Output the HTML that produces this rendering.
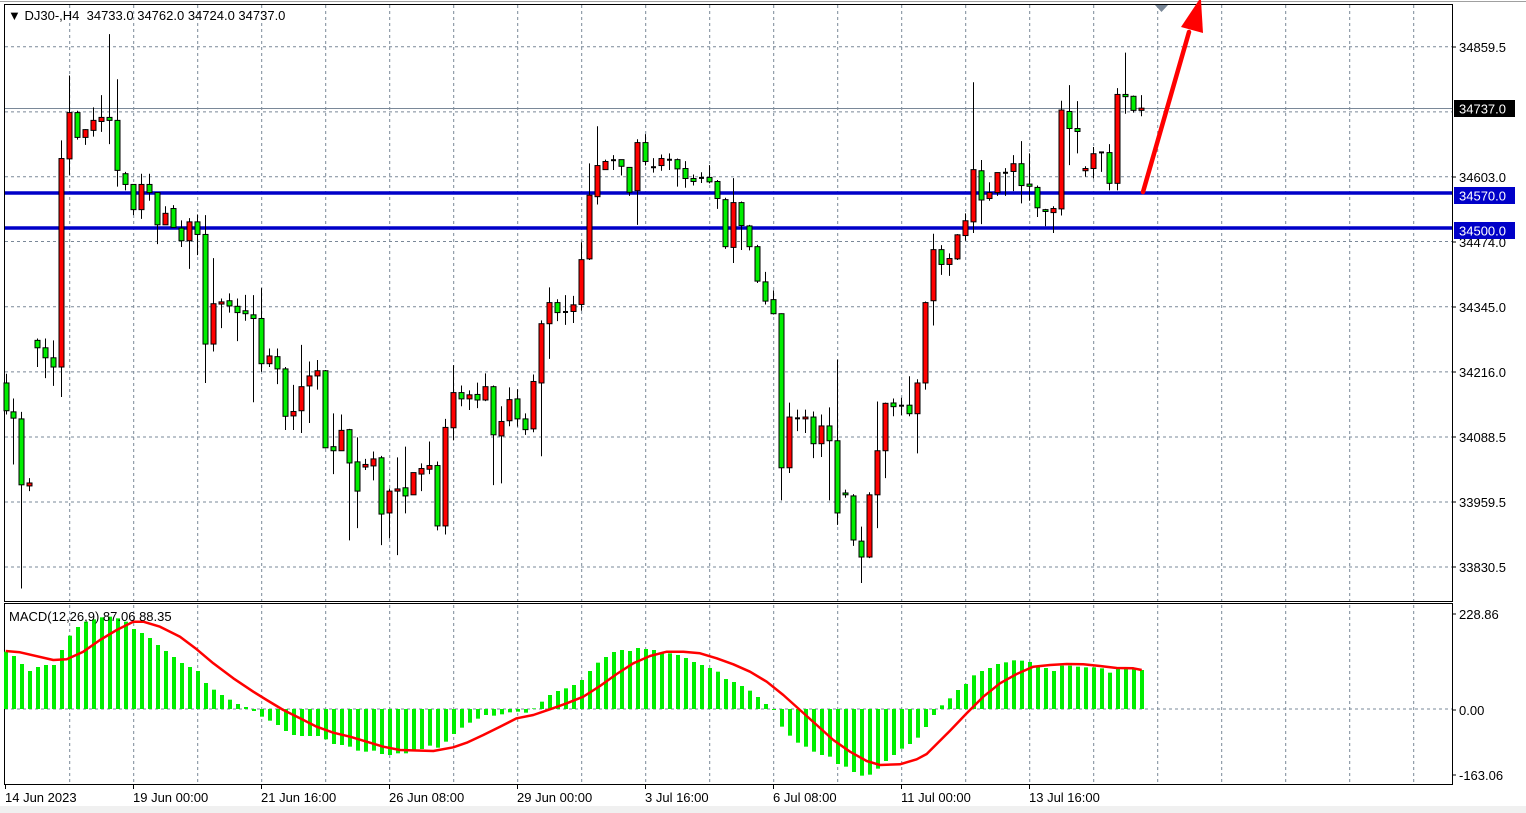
<!DOCTYPE html>
<html><head><meta charset="utf-8"><style>
html,body{margin:0;padding:0;background:#fff;width:1526px;height:813px;overflow:hidden}
svg{display:block}
text{font-family:"Liberation Sans","DejaVu Sans",sans-serif;font-size:13px;fill:#000}
</style></head><body>
<svg id="s" width="1526" height="813" xmlns="http://www.w3.org/2000/svg">
<rect x="0" y="0" width="1526" height="813" fill="#fff"/>
<rect x="0" y="806" width="1526" height="7" fill="#f0f0f0"/>
<g id="grid"></g>
<g id="lines"></g>
<g id="candles"></g>
<g id="macd"></g>
<g id="ov"></g>
</svg>
<script>
const NS="http://www.w3.org/2000/svg";
function el(p,t,a,txt){const e=document.createElementNS(NS,t);for(const k in a)e.setAttribute(k,a[k]);if(txt!==undefined)e.textContent=txt;document.getElementById(p).appendChild(e);return e;}
for(let x=69.7;x<1452;x+=64){el('grid','line',{x1:x,y1:5,x2:x,y2:601,stroke:'#7a8898','stroke-dasharray':'3,3','stroke-width':1});
 el('grid','line',{x1:x,y1:605,x2:x,y2:784,stroke:'#7a8898','stroke-dasharray':'3,3','stroke-width':1});}
[46.7,111.9,176.7,241.5,306.7,371.9,437,502,567].forEach(y=>el('grid','line',{x1:5,y1:y,x2:1452,y2:y,stroke:'#7a8898','stroke-dasharray':'3,3','stroke-width':1}));
el('grid','line',{x1:5,y1:709,x2:1452,y2:709,stroke:'#7a8898','stroke-dasharray':'3,3','stroke-width':1});
el('grid','line',{x1:5,y1:108.5,x2:1452,y2:108.5,stroke:'#7a8898','stroke-width':1});
el('grid','rect',{x:4.5,y:4.5,width:1448,height:597,fill:'none',stroke:'#000','stroke-width':1});
el('grid','rect',{x:4.5,y:603.5,width:1448,height:181,fill:'none',stroke:'#000','stroke-width':1});
el('grid','line',{x1:0,y1:1.5,x2:1526,y2:1.5,stroke:'#a0a0a0','stroke-width':1});
const Z=[
 [0,[[17,'G',955,980,1055,1065],[40,'G',1022,1058,1075,1200],[64,'G',1058,1077,1255,1535],[88,'R',1237,1250,1258,1272],[112,'G',860,865,885,937],[136,'G',860,885,912,967],[160,'G',865,912,937,988],[184,'R',325,374,937,1018],[208,'R',150,250,375,418],[232,'G',245,250,317,323],[256,'R',295,296,317,337],[280,'R',236,271,298,315],[304,'R',203,263,274,302],[328,'G',38,263,271,335],[352,'G',160,271,406,450],[376,'G',410,415,444,460],[400,'G',444,444,512,527],[424,'R',415,444,512,537],[448,'G',415,444,466,488],[472,'G',466,466,553,605],[496,'R',503,522,553,553],[520,'G',500,509,560,560],[544,'G',541,562,596,613],[568,'R',535,545,596,672],[592,'G',525,545,579,635],[616,'G',527,579,875,980],[640,'R',643,766,875,895],[664,'R',752,761,767,832],[688,'G',738,758,772,790],[712,'G',752,773,790,867],[736,'G',742,785,793,812],[760,'G',743,796,806,1032],[784,'G',724,806,928,950],[808,'R',887,907,928,937],[832,'G',887,909,942,983],[856,'G',937,942,1070,1107]]],
 [285,[[25,'R',985,1057,1069,1107],[49,'R',877,990,1055,1115],[73,'R',922,961,988,1088],[97,'R',918,947,961,998],[121,'G',945,947,1155,1157],[145,'G',1062,1152,1163,1226],[169,'R',1065,1108,1163,1163],[193,'G',1104,1106,1196,1405],[217,'G',1127,1193,1272,1372],[241,'R',1185,1200,1207,1215],[265,'R',1165,1185,1204,1243],[289,'G',1177,1182,1334,1418],[313,'R',1265,1272,1331,1400],[337,'R',1181,1266,1272,1445],[361,'G',1152,1263,1285,1332],[385,'R',1222,1222,1282,1282],[409,'R',1197,1211,1226,1272],[433,'R',1138,1203,1213,1226],[457,'G',1192,1203,1366,1378],[481,'R',1077,1100,1366,1389],[505,'R',932,1006,1101,1135],[529,'G',987,1006,1023,1043],[553,'R',1000,1012,1023,1053],[577,'G',979,1011,1026,1048],[601,'R',954,990,1026,1029],[625,'G',987,990,1120,1256],[649,'R',1043,1084,1123,1251],[673,'R',992,1025,1082,1097],[697,'G',997,1023,1077,1098],[721,'G',1062,1077,1106,1120],[745,'R',957,976,1104,1113],[769,'R',811,820,980,1178],[793,'R',722,763,820,915],[817,'G',754,763,790,813],[841,'D',743,787,789,823]]],
 [570,[[10,'R',745,769,787,818],[34,'R',600,647,768,785],[58,'R',387,473,645,648],[82,'R',287,393,477,498],[106,'R',377,382,404,405],[130,'D',365,377,380,405],[154,'G',377,377,395,420],[178,'G',398,398,465,475],[202,'R',322,331,461,553],[226,'G',308,331,382,393],[250,'D',373,396,399,412],[274,'R',363,374,393,407],[298,'D',360,376,378,405],[322,'G',374,377,402,450],[346,'G',381,401,428,453],[370,'G',417,428,436,447],[394,'D',411,425,427,440],[418,'G',392,425,437,441],[442,'G',432,436,482,510],[466,'G',480,485,612,618],[490,'R',427,493,614,656],[514,'G',490,493,555,621],[538,'G',553,556,612,622],[562,'G',607,612,705,710],[586,'G',680,707,759,768],[610,'G',730,755,793,795],[634,'G',792,793,1209,1297],[658,'R',1033,1072,1209,1223],[682,'D',1052,1074,1077,1110],[706,'R',1052,1072,1077,1115],[730,'G',1057,1072,1144,1183],[754,'R',1065,1096,1144,1180],[778,'G',1046,1096,1136,1297],[802,'G',917,1136,1331,1363],[826,'G',1268,1277,1282,1290],[850,'G',1280,1285,1404,1420]]],
 [855,[[19,'G',1368,1407,1450,1520],[43,'R',1275,1282,1450,1453],[67,'R',1030,1163,1282,1372],[91,'R',1033,1035,1163,1237],[115,'G',1022,1034,1044,1070],[139,'D',1020,1040,1042,1067],[163,'G',962,1040,1063,1070],[187,'R',970,980,1063,1170],[211,'R',760,763,980,998],[235,'R',577,620,758,825],[259,'G',608,620,660,688],[283,'R',630,644,660,691],[307,'R',578,580,645,648],[331,'R',522,542,582,596],[355,'R',168,404,545,575],[379,'G',378,407,486,551],[403,'R',438,466,482,488],[427,'R',412,412,466,475],[451,'D',400,411,414,475],[475,'R',365,388,409,462],[499,'G',327,388,447,495],[523,'G',360,443,449,488],[547,'G',447,452,507,532],[571,'G',510,512,517,557],[595,'R',503,509,520,575],[619,'R',218,243,510,528],[643,'G',176,247,293,392],[667,'G',219,293,301,360],[691,'R',395,401,407,423],[715,'R',343,361,401,428],[739,'D',355,356,359,410],[763,'G',335,358,441,460],[787,'R',184,201,441,460],[811,'G',88,201,207,253],[835,'G',204,206,244,250],[859,'R',203,238,244,260]]]
];
const VS=2.7;
Z.forEach(([x0,arr])=>arr.forEach(c=>{
 const cx=Math.round(x0+c[0]/3)+0.5, Y=v=>20+v/VS;
 const wt=Y(c[2]),bt=Y(c[3]),bb=Y(c[4]),wb=Y(c[5]);
 el('candles','line',{x1:cx,y1:Math.max(wt,5),x2:cx,y2:wb,stroke:'#000','stroke-width':1});
 let h=Math.max(bb-bt,1);
 if(c[1]=='D'){el('candles','line',{x1:cx-2.5,y1:bt+h/2,x2:cx+2.5,y2:bt+h/2,stroke:'#000','stroke-width':2});}
 else el('candles','rect',{x:cx-2.5,y:bt,width:5,height:h,fill:c[1]=='R'?'#ff0000':'#00ee00',stroke:'#000','stroke-width':1});
}));
el('lines','line',{x1:5,y1:193,x2:1452,y2:193,stroke:'#0000c8','stroke-width':3.5});
el('lines','line',{x1:5,y1:228,x2:1452,y2:228,stroke:'#0000c8','stroke-width':3.5});
const H=[[0,[155,168,192,213,201,195,195,150,107,81,65,58,52,50,55,65,87,99,114,135,153,171,189,201,213,249,269,285,299,312,321,333,350,362,375,393,405,408,408,408,418,432,435,440,452,455,452,462,465,460]],
[50,[460,450,447,437,443,425,402,383,368,356,345,347,343,337,335,338,325,305,285,273,265,255,240,213,188,171,156,150,153,144,147,150,158,160,165,174,186,195,204,215,237,246,258,272,291,312,330,380,407,428]],
[100,[440,455,465,470,492,500,516,527,524,506,483,465,446,432,413,381,345,316,295,270,252,226,213,204,192,187,181,182,186,197,204,213,197,197,200,202,202,205,218,207,207,207,210]]];
H.forEach(([s,arr])=>arr.forEach((v,k)=>{const i=s+k;const cx=Math.round(5.7+8*i);const y=600+v/3;
 const t=Math.min(y,709),b=Math.max(y,709);if(b-t<0.5)return;
 el('macd','rect',{x:cx-2,y:t,width:4,height:b-t,fill:'#00ee00'});}));
const S=[[0,[[17,153],[60,157],[160,180],[200,178],[250,155],[300,120],[350,90],[400,65],[430,65],[480,80],[540,110],[590,148],[640,190],[700,235],[760,275],[800,300],[850,330],[900,355],[950,380],[1000,398],[1050,410],[1100,425],[1150,440]]],
[400,[[0,450],[100,453],[160,442],[200,428],[250,405],[300,380],[350,355],[400,345],[450,328],[500,310],[550,290],[600,258],[650,222],[700,190],[750,168],[800,155],[850,155],[900,160],[950,175],[1000,193],[1050,215],[1100,245],[1150,285]]],
[800,[[0,330],[50,375],[100,420],[150,455],[200,483],[240,495],[300,493],[350,478],[380,462],[450,392],[500,340],[550,290],[600,250],[650,222],[700,200],[750,195],[800,192],[850,193],[900,198],[950,204],[1000,205],[1025,210]]]];
let pts=[];S.forEach(([x0,a])=>a.forEach(p=>pts.push((x0+p[0]/3).toFixed(1)+','+(600+p[1]/3).toFixed(1))));
el('macd','polyline',{points:pts.join(' '),fill:'none',stroke:'#ff0000','stroke-width':2.5,'stroke-linejoin':'round'});
el('ov','polygon',{points:'1155,5 1168,5 1161.5,12',fill:'#7a8898'});
el('ov','line',{x1:1143,y1:192,x2:1189,y2:32,stroke:'#ff0000','stroke-width':4.5,'stroke-linecap':'round'});
el('ov','polygon',{points:'1181,27 1203,33 1201,0 1199,0',fill:'#ff0000'});
el('ov','text',{x:8,y:20},'\u25BC DJ30-,H4 \u00A034733.0 34762.0 34724.0 34737.0');
el('ov','text',{x:9,y:621},'MACD(12,26,9) 87.06 88.35');
[[47,'34859.5'],[177,'34603.0'],[242,'34474.0'],[307,'34345.0'],[372,'34216.0'],[437,'34088.5'],[502,'33959.5'],[567,'33830.5']].forEach(([y,t])=>{
 el('ov','line',{x1:1452,y1:y,x2:1456,y2:y,stroke:'#000'});el('ov','text',{x:1459,y:y+5},t);});
el('ov','rect',{x:1454,y:100,width:61,height:17,fill:'#000'});
el('ov','text',{x:1459,y:113.5,style:'fill:#fff'},'34737.0');
el('ov','rect',{x:1454,y:187,width:61,height:17,fill:'#0000c8'});
el('ov','text',{x:1459,y:200.5,style:'fill:#fff'},'34570.0');
el('ov','rect',{x:1454,y:222,width:61,height:17,fill:'#0000c8'});
el('ov','text',{x:1459,y:235.5,style:'fill:#fff'},'34500.0');
[[614,'228.86'],[710,'0.00'],[775,'-163.06']].forEach(([y,t])=>{el('ov','line',{x1:1452,y1:y,x2:1456,y2:y,stroke:'#000'});el('ov','text',{x:1459,y:y+5},t);});
[[5,'14 Jun 2023'],[133,'19 Jun 00:00'],[261,'21 Jun 16:00'],[389,'26 Jun 08:00'],[517,'29 Jun 00:00'],[645,'3 Jul 16:00'],[773,'6 Jul 08:00'],[901,'11 Jul 00:00'],[1029,'13 Jul 16:00']].forEach(([x,t])=>{
 el('ov','line',{x1:x+0.5,y1:784,x2:x+0.5,y2:789,stroke:'#000'});el('ov','text',{x:x,y:802},t);});
</script>
</body></html>
